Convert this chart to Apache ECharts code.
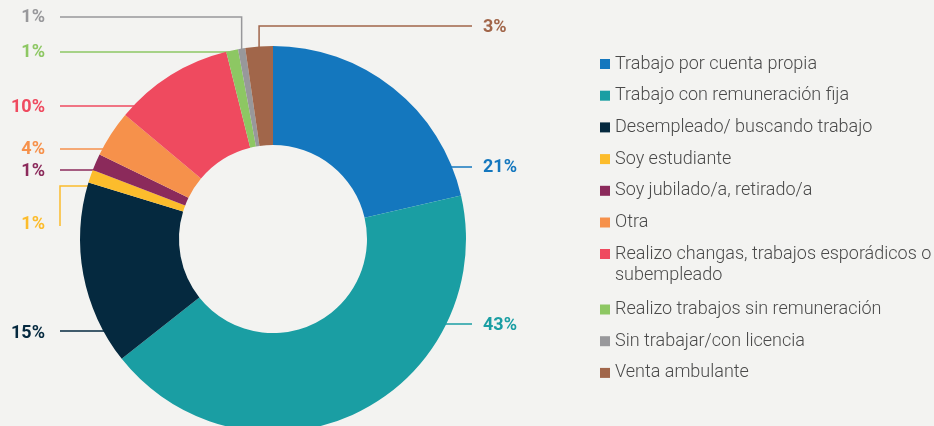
<!DOCTYPE html>
<html>
<head>
<meta charset="utf-8">
<script src="https://cdn.jsdelivr.net/npm/echarts@6/dist/echarts.min.js"></script>
<style>html,body{margin:0;background:#f3f3f1}#main{width:934px;height:426px}</style>
</head>
<body>
<div id="main"></div>
<script>
var categories = [
  'Trabajo por cuenta propia',
  'Trabajo con remuneración fija',
  'Desempleado/ buscando trabajo',
  'Soy estudiante',
  'Soy jubilado/a, retirado/a',
  'Otra',
  'Realizo changas, trabajos esporádicos o subempleado',
  'Realizo trabajos sin remuneración',
  'Sin trabajar/con licencia',
  'Venta ambulante'
];
var values = [21.4, 43.0, 15.4, 1.1, 1.4, 3.9, 10.0, 1.0, 0.6, 2.3];
var shownPct = [21, 43, 15, 1, 1, 4, 10, 1, 1, 3];
var colors = ['#1477be', '#1a9ea3', '#05293f', '#fcbc2c', '#8b2a5b',
              '#f6914b', '#ef4a5f', '#8dc763', '#98989b', '#a1664a'];

// label placement (pixels)
var CX = 273, CY = 239, R = 193;
var labelSide = ['R', 'R', 'L', 'L', 'L', 'L', 'L', 'L', 'L', 'R'];
var labelY = [167, 325, 333, 224, 171, 149, 107, 52, 17, 27];
var lineY  = [167, 324, 331, 186, 170, 149, 106, 52, 17, 26];

var myChart = echarts.init(document.getElementById('main'));

var pieData = categories.map(function (name, i) {
  return {
    name: name,
    value: values[i],
    itemStyle: { color: colors[i] },
    label: { color: colors[i] },
    labelLine: { lineStyle: { color: colors[i] } }
  };
});

var legendBase = {
  orient: 'vertical',
  left: 600,
  padding: 0,
  itemWidth: 10,
  itemHeight: 10,
  itemGap: 10.7,
  icon: 'rect',
  selectedMode: false,
  textStyle: { fontFamily: 'Roboto', fontWeight: 300, fontSize: 18, color: '#4a4a4a', lineHeight: 21 }
};

var option = {
  backgroundColor: '#f3f3f1',
  animation: false,
  legend: [
    Object.assign({}, legendBase, { top: 53.5, data: categories.slice(0, 6) }),
    Object.assign({}, legendBase, {
      top: 222.5,
      data: categories.slice(6, 7),
      // empty first line keeps the square beside the first text line
      formatter: function (n) { return '\n' + n.replace(/ (\S+)$/, '\n$1'); }
    }),
    Object.assign({}, legendBase, { top: 299, data: categories.slice(7) })
  ],
  series: [{
    type: 'pie',
    center: [CX, CY],
    radius: [94, R],
    startAngle: 90,
    avoidLabelOverlap: false,
    emphasis: { disabled: true },
    label: {
      show: true,
      position: 'outside',
      fontFamily: 'Roboto',
      fontWeight: 'bold',
      fontSize: 18,
      formatter: function (p) { return shownPct[p.dataIndex] + '%'; }
    },
    labelLine: { show: true, lineStyle: { width: 1.5 } },
    labelLayout: function (p) {
      var i = p.dataIndex, left = labelSide[i] === 'L';
      var xEnd = left ? 60 : 472;
      var ly = lineY[i], pts;
      if (i === 8 || i === 9) {
        // elbow: straight up from the slice, then along the label row
        var s = p.labelLinePoints[0];
        pts = [[s[0], s[1] + 2], [s[0], ly], [xEnd, ly]];
      } else {
        var dx = Math.sqrt(R * R - (ly - CY) * (ly - CY));
        var xe = left ? CX - dx + 4 : CX + dx - 4;
        if (i === 3) pts = [[xe + 6, ly], [xEnd, ly], [xEnd, labelY[i] + 2]];
        else pts = [[xe, ly], [(xe + xEnd) / 2, ly], [xEnd, ly]];
      }
      return {
        x: left ? 45 : 483,
        y: labelY[i],
        align: left ? 'right' : 'left',
        verticalAlign: 'middle',
        labelLinePoints: pts
      };
    },
    data: pieData
  }]
};

myChart.setOption(option);
</script>
</body>
</html>
